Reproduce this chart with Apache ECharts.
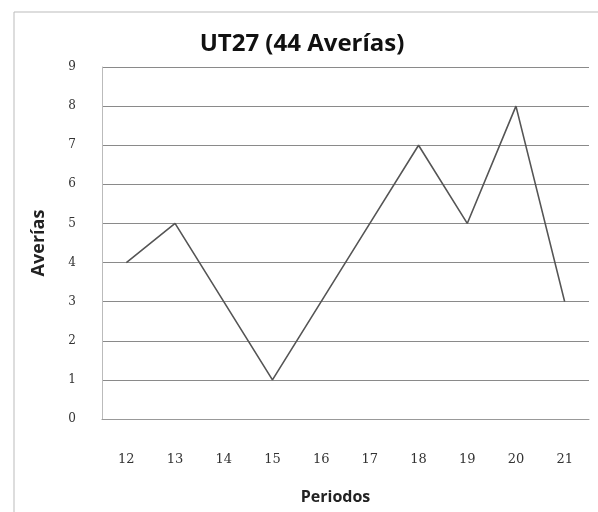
<!DOCTYPE html>
<html>
<head>
<meta charset="utf-8">
<script src="https://cdn.jsdelivr.net/npm/echarts@6/dist/echarts.min.js"></script>
<style>
  html, body { margin: 0; padding: 0; background: #fff; }
  #chart { width: 598px; height: 512px; }
</style>
</head>
<body>
<div id="chart"></div>
<script>
// periodos y averias
var periodos = ['12', '13', '14', '15', '16', '17', '18', '19', '20', '21'];
var averias = [4, 5, 3, 1, 3, 5, 7, 5, 8, 3];

var myChart = echarts.init(document.getElementById('chart'));
var option = {
  backgroundColor: '#fff',
  title: {
    text: 'UT27 (44 Averías)',
    left: 297,
    top: 27,
    textAlign: 'center',
    textStyle: { fontFamily: 'Open Sans', fontWeight: 'bold', fontSize: 24, color: '#111' }
  },
  grid: { left: 102, right: 9, top: 67, bottom: 93 },
  xAxis: {
    type: 'category',
    data: periodos,
    boundaryGap: true,
    name: 'Periodos',
    nameLocation: 'middle',
    nameGap: 70,
    nameTextStyle: { fontFamily: 'Open Sans', fontWeight: 'bold', fontSize: 16, color: '#222', padding: [0, 0, 0, -20] },
    axisLine: { lineStyle: { color: '#999' } },
    axisTick: { show: false },
    axisLabel: { color: '#333', fontSize: 13, fontFamily: 'DejaVu Serif', margin: 34 }
  },
  yAxis: {
    type: 'value',
    min: 0,
    max: 9,
    interval: 1,
    name: 'Averías',
    nameLocation: 'middle',
    nameGap: 54,
    nameTextStyle: { fontFamily: 'Open Sans', fontWeight: 'bold', fontSize: 18, color: '#222' },
    axisLine: { show: true, lineStyle: { color: '#bbb' } },
    axisTick: { show: false },
    axisLabel: { color: '#333', fontSize: 12, fontFamily: 'DejaVu Serif', margin: 26 },
    splitLine: { show: true, lineStyle: { color: '#8a8a8a', width: 1 } }
  },
  series: [{
    type: 'line',
    data: averias,
    symbol: 'none',
    lineStyle: { color: '#555', width: 1.6 },
    silent: true
  }],
  graphic: [{
    type: 'polyline',
    shape: { points: [[14, 512], [14, 12], [598, 12]] },
    style: { stroke: '#bbb', lineWidth: 1, fill: null }
  }]
};
myChart.setOption(option);
</script>
</body>
</html>
